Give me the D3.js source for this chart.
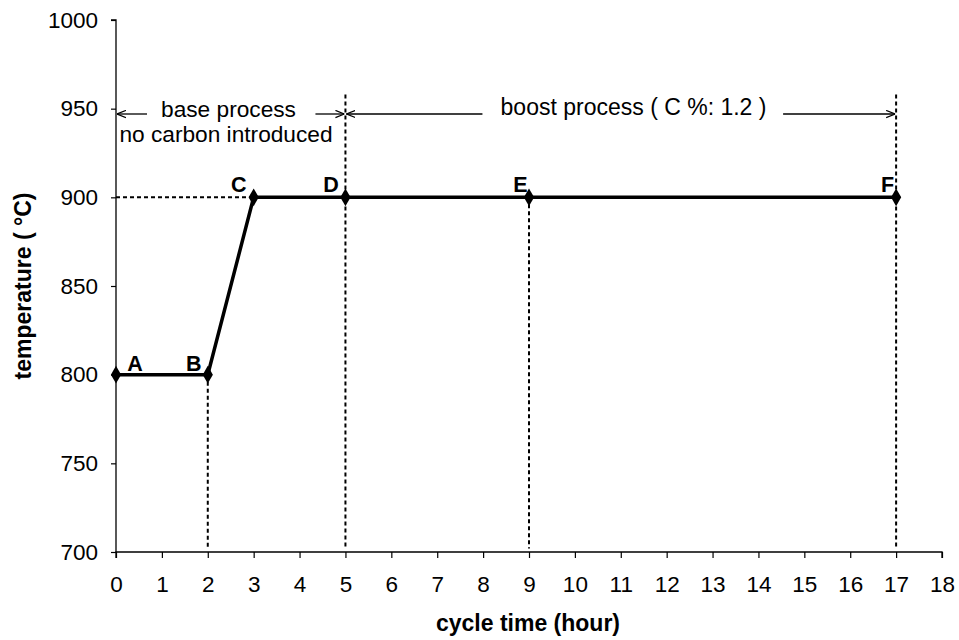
<!DOCTYPE html>
<html>
<head>
<meta charset="utf-8">
<script src="https://cdn.jsdelivr.net/npm/d3@7"></script>
<style>
  body { margin: 0; background: #fff; }
  text { font-family: "Liberation Sans", Arial, sans-serif; }
</style>
</head>
<body>
<div id="chart"></div>
<script>
// cycle data
var labels = ["A", "B", "C", "D", "E", "F"];
var hours = [0, 2, 3, 5, 9, 17];
var temps = [800, 800, 900, 900, 900, 900];
var xTicks = d3.range(0, 19);
var yTicks = [700, 750, 800, 850, 900, 950, 1000];

var W = 959, H = 640;
var svg = d3.select("#chart").append("svg")
  .attr("width", W)
  .attr("height", H);

var x = d3.scaleLinear().domain([0, 18]).range([116, 942]);
var y = d3.scaleLinear().domain([700, 1000]).range([552, 20]);

// axes
var xAxis = svg.append("g")
  .attr("transform", "translate(0," + y(700) + ")")
  .call(d3.axisBottom(x).tickValues(xTicks).tickSize(6).tickPadding(18).tickFormat(d3.format("d")));
var yAxis = svg.append("g")
  .attr("transform", "translate(" + x(0) + ",0)")
  .call(d3.axisLeft(y).tickValues(yTicks).tickSize(5).tickPadding(13).tickFormat(d3.format("d")));
svg.selectAll(".domain").attr("stroke", "#000").attr("stroke-width", 1.3);
svg.selectAll(".tick line").attr("stroke", "#000").attr("stroke-width", 1.2);
svg.selectAll(".tick text").attr("font-size", 22.5).attr("fill", "#000")
  .attr("font-family", "'Liberation Sans', Arial, sans-serif");
yAxis.select(".domain").attr("d", "M-5," + y(1000) + "H0V" + y(700));
xAxis.select(".domain").attr("d", "M" + x(0) + ",6V0H" + x(18) + "V6");

// dotted guide lines
var dash = "4,3";
var guides = [
  [0, 900, 3, 900],
  [2, 800, 2, 702],
  [5, 958, 5, 703],
  [9, 900, 9, 702],
  [17, 958, 17, 702]
];
svg.append("g").selectAll("line").data(guides).enter().append("line")
  .attr("x1", function(d){ return x(d[0]); })
  .attr("y1", function(d){ return y(d[1]); })
  .attr("x2", function(d){ return x(d[2]); })
  .attr("y2", function(d){ return y(d[3]); })
  .attr("stroke", "#000")
  .attr("stroke-width", 2)
  .attr("stroke-dasharray", dash);

// arrows
var defs = svg.append("defs");
defs.append("marker").attr("id", "arr")
  .attr("viewBox", "0 0 10 10").attr("refX", 10).attr("refY", 5)
  .attr("markerWidth", 9).attr("markerHeight", 9)
  .attr("markerUnits", "userSpaceOnUse")
  .attr("orient", "auto")
  .append("path").attr("d", "M0,1 L10,5 L0,9").attr("fill", "none").attr("stroke", "#000").attr("stroke-width", 1.4);

var ay = 114;
var arrows = [
  [x(0) + 31, x(0) + 1],
  [x(5) - 30, x(5) - 1],
  [x(5) + 137, x(5) + 1],
  [x(17) - 113, x(17) - 1]
];
svg.append("g").selectAll("line").data(arrows).enter().append("line")
  .attr("x1", function(d){ return d[0]; })
  .attr("x2", function(d){ return d[1]; })
  .attr("y1", ay).attr("y2", ay)
  .attr("stroke", "#000").attr("stroke-width", 1.3)
  .attr("marker-end", "url(#arr)");

svg.append("text").attr("x", 228.5).attr("y", 117)
  .attr("text-anchor", "middle").attr("font-size", 22.7).text("base process");
svg.append("text").attr("x", 226).attr("y", 142)
  .attr("text-anchor", "middle").attr("font-size", 22.7).text("no carbon introduced");
svg.append("text").attr("x", 633.5).attr("y", 115)
  .attr("text-anchor", "middle").attr("font-size", 23).text("boost process ( C %: 1.2 )");

// the temperature profile
var pts = hours.map(function(h, i){ return {h: h, t: temps[i], l: labels[i]}; });
var line = d3.line()
  .x(function(d){ return x(d.h); })
  .y(function(d){ return y(d.t); });
svg.append("path").datum(pts)
  .attr("d", line)
  .attr("fill", "none")
  .attr("stroke", "#000")
  .attr("stroke-width", 3.5);

svg.append("g").selectAll("path").data(pts).enter().append("path")
  .attr("d", d3.symbol().type(d3.symbolDiamond).size(90))
  .attr("transform", function(d){ return "translate(" + x(d.h) + "," + y(d.t) + ")"; })
  .attr("fill", "#000");

// point letters
var lblOffset = {A: [19, -3.5], B: [-14, -3.5], C: [-15, -5], D: [-14.5, -5], E: [-8.5, -5], F: [-8.5, -5]};
svg.append("g").selectAll("text").data(pts).enter().append("text")
  .attr("x", function(d){ return x(d.h) + lblOffset[d.l][0]; })
  .attr("y", function(d){ return y(d.t) + lblOffset[d.l][1]; })
  .attr("text-anchor", "middle")
  .attr("font-size", 21.5)
  .attr("font-weight", "900")
  .attr("font-family", "'DejaVu Sans', sans-serif")
  .text(function(d){ return d.l; });

// axis titles
svg.append("text").attr("x", 528).attr("y", 631)
  .attr("text-anchor", "middle").attr("font-size", 23).attr("font-weight", "bold")
  .text("cycle time (hour)");
svg.append("text")
  .attr("transform", "translate(31," + 286 + ") rotate(-90)")
  .attr("text-anchor", "middle").attr("font-size", 23).attr("font-weight", "bold")
  .text("temperature ( °C)");
</script>
</body>
</html>
